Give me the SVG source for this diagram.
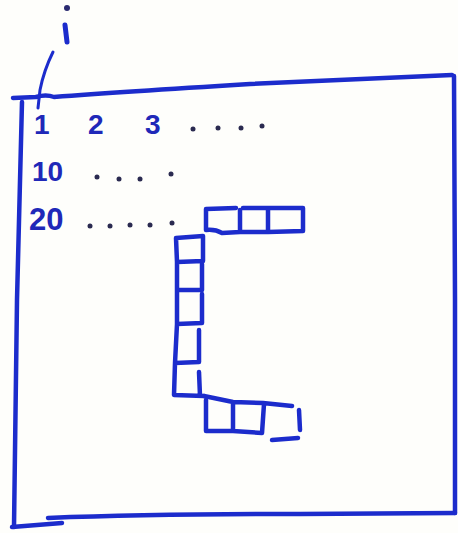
<svg xmlns="http://www.w3.org/2000/svg" width="458" height="533" viewBox="0 0 458 533">
<style>
.ink{fill:none;stroke:#1c2ccc;stroke-width:4.5;stroke-linecap:round;stroke-linejoin:round}
.thin{fill:none;stroke:#1c2ccc;stroke-width:3;stroke-linecap:round}
.t{font-family:"Liberation Sans",Arial,sans-serif;font-weight:bold;font-size:28px;fill:#2028b8}
.dot{fill:#2a2a50}
</style>
<rect width="458" height="533" fill="#fefefb"/>
<g id="frame">
<path class="ink" d="M13,98 L36,97 Q46,94 54,97 Q120,92 250,84 L452,75"/>
<path class="ink" d="M454,76 L455,300 L455,513"/>
<path class="ink" d="M48,518 Q150,514 300,514 L455,513"/>
<path class="ink" d="M22,102 L17,300 L14,527"/>
<path class="ink" d="M12,527 L62,523"/>
</g>
<g id="label-i">
<circle cx="67" cy="8" r="3" fill="#2a2a70"/>
<path class="ink" d="M65,25 L67,42" style="stroke-width:5"/>
<path class="thin" d="M53,52 Q44,70 40,90 L38,108"/>
</g>
<g id="row1">
<text class="t" x="34" y="134">1</text>
<text class="t" x="88" y="134">2</text>
<text class="t" x="145" y="134">3</text>
<circle class="dot" cx="193" cy="129" r="2.5"/>
<circle class="dot" cx="218" cy="128" r="2.5"/>
<circle class="dot" cx="241" cy="128" r="2.5"/>
<circle class="dot" cx="262" cy="126" r="2.5"/>
</g>
<g id="row10">
<text class="t" x="32" y="181">10</text>
<circle class="dot" cx="97" cy="177" r="2.5"/>
<circle class="dot" cx="119" cy="179" r="2.5"/>
<circle class="dot" cx="140" cy="179" r="2.5"/>
<circle class="dot" cx="171" cy="174" r="2.5"/>
</g>
<g id="row20">
<text class="t" x="29" y="230" style="font-size:31px">20</text>
<circle class="dot" cx="90" cy="226" r="2.5"/>
<circle class="dot" cx="110" cy="226" r="2.5"/>
<circle class="dot" cx="130" cy="225" r="2.5"/>
<circle class="dot" cx="150" cy="225" r="2.5"/>
<circle class="dot" cx="172" cy="223" r="2.5"/>
</g>
<g id="blocks">
<path class="ink" d="M206,230 L206,209 L236,208 M243,208 L268,208 L303,208 L303,231 L268,232 L240,232 M240,210 L240,232 M268,208 L268,232 M206,230 Q215,229 222,233 L240,232"/>
<path class="ink" d="M203,236 L176,238 L177,262 L203,261 L203,236 M177,262 L177,290 L202,290 L202,264 M177,290 L177,324 L202,323 L202,294 M177,324 L175,363 L199,362 L199,330 M175,363 L174,395 L204,396 M199,372 L200,396"/>
<path class="ink" d="M204,396 L233,402 L263,403 L292,406 M206,400 L206,431 L233,431 L262,433 L264,404 M233,402 L233,431"/>
<path class="ink" d="M299,410 L300,430"/>
<path class="ink" d="M272,440 L298,438"/>
</g>
</svg>
